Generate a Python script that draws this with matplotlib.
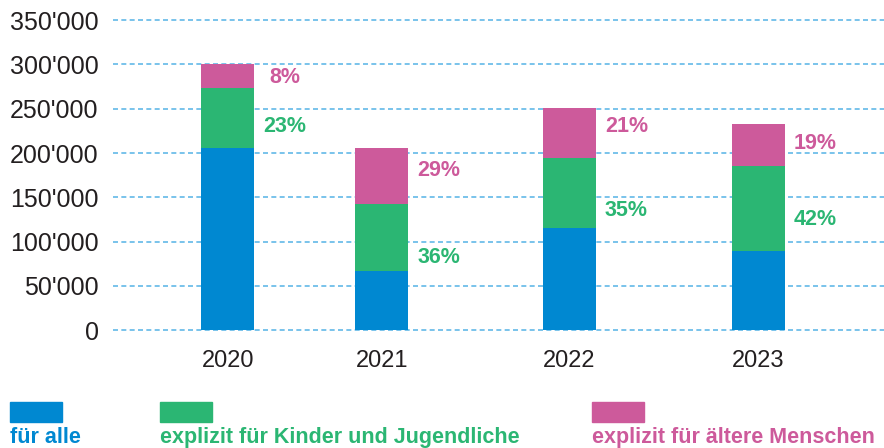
import matplotlib
matplotlib.use("Agg")
import matplotlib.pyplot as plt
from matplotlib.patches import Rectangle
from matplotlib.ticker import FuncFormatter

plt.rcParams['font.family'] = ['Liberation Sans', 'DejaVu Sans']

# Daten
jahre = ['2020', '2021', '2022', '2023']
fuer_alle = [205500, 66600, 115200, 89200]
kinder_jugendliche = [67700, 76000, 79000, 96700]
aeltere_menschen = [26800, 62900, 56100, 46700]
kinder_pct = ['23%', '36%', '35%', '42%']
aeltere_pct = ['8%', '29%', '21%', '19%']

# Layout (Positionen der Balken und Beschriftungen)
x_pos = [0, 1, 2.22, 3.445]
kinder_label_y = [230300, 82400, 135500, 125300]
aeltere_label_y = [285600, 180600, 230300, 211100]

blau = '#0088D1'
gruen = '#2BB673'
pink = '#CD5A9B'

fig = plt.figure(figsize=(8.84, 4.48), dpi=100)
ax = fig.add_axes([0.128, 0.263, 0.872, 0.692])

breite = 0.344
unten2 = fuer_alle
unten3 = [a + b for a, b in zip(fuer_alle, kinder_jugendliche)]
ax.bar(x_pos, fuer_alle, width=breite, color=blau, zorder=3)
ax.bar(x_pos, kinder_jugendliche, width=breite, bottom=unten2, color=gruen, zorder=3)
ax.bar(x_pos, aeltere_menschen, width=breite, bottom=unten3, color=pink, zorder=3)

for x, y, t in zip(x_pos, kinder_label_y, kinder_pct):
    ax.text(x + 0.37, y, t, color=gruen, fontsize=15.5, fontweight='bold',
            ha='center', va='center')
for x, y, t in zip(x_pos, aeltere_label_y, aeltere_pct):
    ax.text(x + 0.37, y, t, color=pink, fontsize=15.5, fontweight='bold',
            ha='center', va='center')

ax.set_xlim(-0.744, 4.263)
ax.set_ylim(0, 350000)
ax.set_yticks(range(0, 350001, 50000))
ax.yaxis.set_major_formatter(FuncFormatter(lambda v, p: f"{int(v):,}".replace(',', "'")))
ax.set_xticks(x_pos)
ax.set_xticklabels(jahre)
ax.tick_params(axis='y', length=0, pad=10.5, labelsize=18, labelcolor='#231F20')
ax.tick_params(axis='x', length=0, pad=14, labelsize=17, labelcolor='#231F20')
for s in ax.spines.values():
    s.set_visible(False)
ax.grid(axis='y', color='#62B9E8', linestyle=(0, (3, 2)), linewidth=1.2)
for gl in ax.get_ygridlines():
    gl.set_clip_on(False)
ax.set_axisbelow(True)

# Legende unten
W, H = 884, 448
eintraege = [(10, blau, 'für alle'),
             (160, gruen, 'explizit für Kinder und Jugendliche'),
             (592, pink, 'explizit für ältere Menschen')]
for x0, farbe, text in eintraege:
    fig.patches.append(Rectangle((x0 / W, (H - 422) / H), 52 / W, 20 / H,
                                 transform=fig.transFigure, color=farbe))
    fig.text(x0 / W, 5 / H, text, color=farbe, fontsize=15.5, fontweight='bold',
             ha='left', va='baseline')

fig.savefig('out.png', dpi=100)
